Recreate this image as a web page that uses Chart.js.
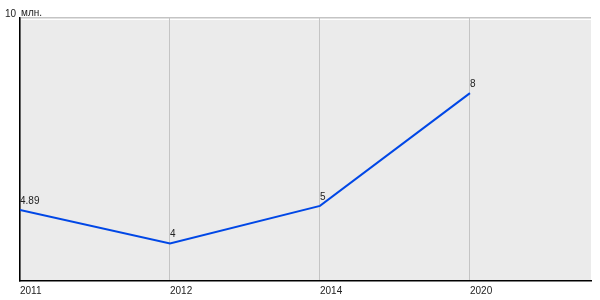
<!DOCTYPE html>
<html>
<head>
<meta charset="utf-8">
<script src="https://cdn.jsdelivr.net/npm/chart.js@4/dist/chart.umd.min.js"></script>
<style>
    html, body { margin: 0; padding: 0; background: #ffffff; }
    #wrap { width: 600px; height: 300px; }
</style>
</head>
<body>
<div id="wrap"><canvas id="population"></canvas></div>
<script>
'use strict'
var years = ['2011', '2012', '2014', '2020'];
var values = [4.89, 4, 5, 8];
var yTickLabels = ['10'];
var yUnit = 'млн.';
var yMin = 3, yMax = 10;
var xMax = 3.807;

/* gray plot background */
var plotBackground = {
    id: 'plotBackground',
    beforeDraw: function (chart) {
        var a = chart.chartArea, ctx = chart.ctx;
        ctx.save();
        ctx.fillStyle = '#ebebeb';
        ctx.fillRect(a.left, a.top + 2, a.right - a.left, a.bottom - a.top - 2);
        ctx.restore();
    }
};

/* value labels above points + top axis label */
var valueLabels = {
    id: 'valueLabels',
    afterDatasetsDraw: function (chart) {
        var ctx = chart.ctx, a = chart.chartArea;
        var meta = chart.getDatasetMeta(0);
        ctx.save();
        ctx.font = '10px "Liberation Sans", Arial, sans-serif';
        ctx.fillStyle = '#222222';
        ctx.textAlign = 'left';
        ctx.textBaseline = 'alphabetic';
        meta.data.forEach(function (pt, i) {
            ctx.fillText(String(values[i]), pt.x, pt.y - 6);
        });
        var yScale = chart.scales.y;
        var yTop = yScale.getPixelForValue(Number(yTickLabels[0]));
        ctx.textAlign = 'right';
        ctx.fillText(yTickLabels[0], a.left - 4, yTop - 1);
        ctx.textAlign = 'left';
        ctx.fillText(yUnit, a.left + 1, yTop - 2);
        ctx.restore();
    }
};

var ctxPop = document.getElementById('population').getContext('2d');
var chartPop = new Chart(ctxPop, {
    type: 'line',
    data: {
        datasets: [{
            data: values.map(function (v, i) { return { x: i, y: v }; }),
            borderColor: '#0047e6',
            borderWidth: 2,
            pointRadius: 0,
            fill: false,
            tension: 0
        }]
    },
    options: {
        responsive: true,
        maintainAspectRatio: false,
        animation: false,
        layout: { padding: { left: 20, top: 18, right: 9, bottom: -1 } },
        plugins: {
            legend: { display: false },
            tooltip: { enabled: false }
        },
        scales: {
            x: {
                type: 'linear',
                min: 0,
                max: xMax,
                afterBuildTicks: function (scale) {
                    scale.ticks = years.map(function (y, i) { return { value: i }; });
                },
                ticks: {
                    align: 'start',
                    padding: 4,
                    color: '#222222',
                    font: { family: '"Liberation Sans", Arial, sans-serif', size: 10 },
                    callback: function (v) { return years[v]; }
                },
                grid: { color: '#c4c4c4', lineWidth: 1, drawTicks: false },
                border: { color: '#000000', width: 1.5 }
            },
            y: {
                min: yMin,
                max: yMax,
                afterBuildTicks: function (scale) {
                    scale.ticks = yTickLabels.map(function (t) { return { value: Number(t) }; });
                },
                ticks: { display: false },
                grid: { color: '#c4c4c4', lineWidth: 1.5, drawTicks: false },
                border: { color: '#000000', width: 1.5 }
            }
        }
    },
    plugins: [plotBackground, valueLabels]
});
chartPop.update();
</script>
</body>
</html>
